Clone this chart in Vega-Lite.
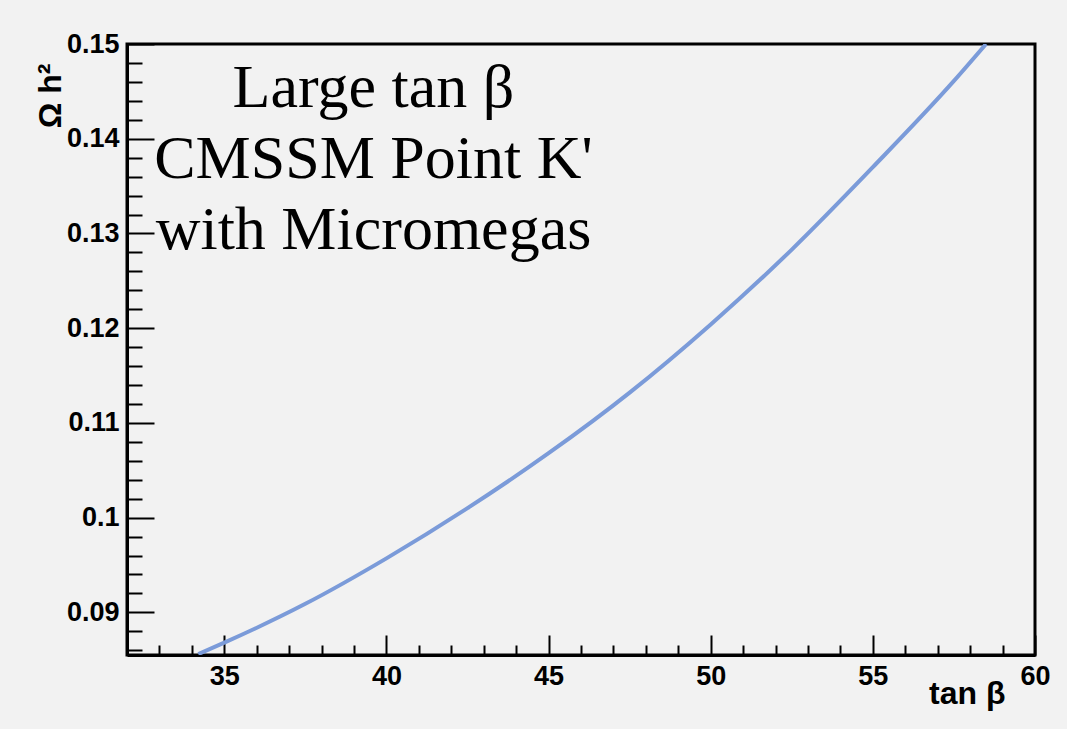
{
  "$schema": "https://vega.github.io/schema/vega-lite/v6.json",
  "width": 908,
  "height": 611,
  "autosize": {"type": "none"},
  "padding": {"left": 127, "top": 44, "right": 32, "bottom": 74},
  "background": "#f2f2f2",
  "config": {
    "view": {"stroke": "black", "strokeWidth": 3},
    "axis": {
      "grid": false,
      "domainColor": "black",
      "domainWidth": 3,
      "tickColor": "black",
      "tickWidth": 2,
      "labelColor": "black",
      "labelFont": "Liberation Sans",
      "labelFontWeight": "bold",
      "labelFontSize": 27,
      "titleColor": "black",
      "titleFont": "Liberation Sans",
      "titleFontWeight": "bold",
      "titleFontSize": 32
    }
  },
  "datasets": {
    "relic": [
      {"tanb": 34.2, "omegah2": 0.0856},
      {"tanb": 35.0, "omegah2": 0.0868},
      {"tanb": 37.5, "omegah2": 0.0909},
      {"tanb": 40.0, "omegah2": 0.0957},
      {"tanb": 42.5, "omegah2": 0.1010},
      {"tanb": 45.0, "omegah2": 0.1068},
      {"tanb": 47.5, "omegah2": 0.1132},
      {"tanb": 50.0, "omegah2": 0.1204},
      {"tanb": 52.5, "omegah2": 0.1283},
      {"tanb": 55.0, "omegah2": 0.1370},
      {"tanb": 57.5, "omegah2": 0.1461},
      {"tanb": 58.49, "omegah2": 0.1500}
    ],
    "caption": [
      {"line": ["Large tan β", "CMSSM Point K'", "with Micromegas"]}
    ]
  },
  "layer": [
    {
      "data": {"name": "relic"},
      "mark": {"type": "line", "color": "#7b9bd9", "strokeWidth": 4, "interpolate": "monotone", "clip": true},
      "encoding": {
        "x": {
          "field": "tanb",
          "type": "quantitative",
          "scale": {"domain": [32, 60], "nice": false, "zero": false},
          "axis": {
            "orient": "bottom",
            "values": [35, 40, 45, 50, 55, 60],
            "tickSize": -20,
            "labelPadding": 28,
            "labelFlush": false,
            "labelOverlap": false,
            "title": "tan β",
            "titleAnchor": "end",
            "titleAlign": "right",
            "titleBaseline": "alphabetic",
            "titleX": 878,
            "titleY": 48
          }
        },
        "y": {
          "field": "omegah2",
          "type": "quantitative",
          "scale": {"domain": [0.0855, 0.15], "nice": false, "zero": false},
          "axis": {
            "orient": "left",
            "values": [0.09, 0.1, 0.11, 0.12, 0.13, 0.14, 0.15],
            "format": ".2~f",
            "tickSize": -27,
            "labelPadding": 35,
            "labelFlush": false,
            "labelOverlap": false,
            "title": "Ω h²",
            "titleAngle": -90,
            "titleAlign": "right",
            "titleBaseline": "alphabetic",
            "titleX": -67,
            "titleY": 19
          }
        }
      }
    },
    {
      "data": {"name": "caption"},
      "mark": {"type": "text", "font": "Liberation Serif", "fontSize": 62, "align": "center", "baseline": "alphabetic", "lineHeight": 71, "color": "black"},
      "encoding": {
        "text": {"field": "line"},
        "x": {
          "datum": 39.6,
          "type": "quantitative",
          "axis": {
            "orient": "bottom",
            "values": [33, 34, 36, 37, 38, 39, 41, 42, 43, 44, 46, 47, 48, 49, 51, 52, 53, 54, 56, 57, 58, 59],
            "tickSize": -10,
            "labels": false,
            "domain": false,
            "title": null
          }
        },
        "y": {
          "datum": 0.14335,
          "type": "quantitative",
          "axis": {
            "orient": "left",
            "values": [0.086, 0.088, 0.092, 0.094, 0.096, 0.098, 0.102, 0.104, 0.106, 0.108, 0.112, 0.114, 0.116, 0.118, 0.122, 0.124, 0.126, 0.128, 0.132, 0.134, 0.136, 0.138, 0.142, 0.144, 0.146, 0.148],
            "tickSize": -15,
            "labels": false,
            "domain": false,
            "title": null
          }
        }
      }
    }
  ],
  "resolve": {"axis": {"x": "independent", "y": "independent"}}
}
